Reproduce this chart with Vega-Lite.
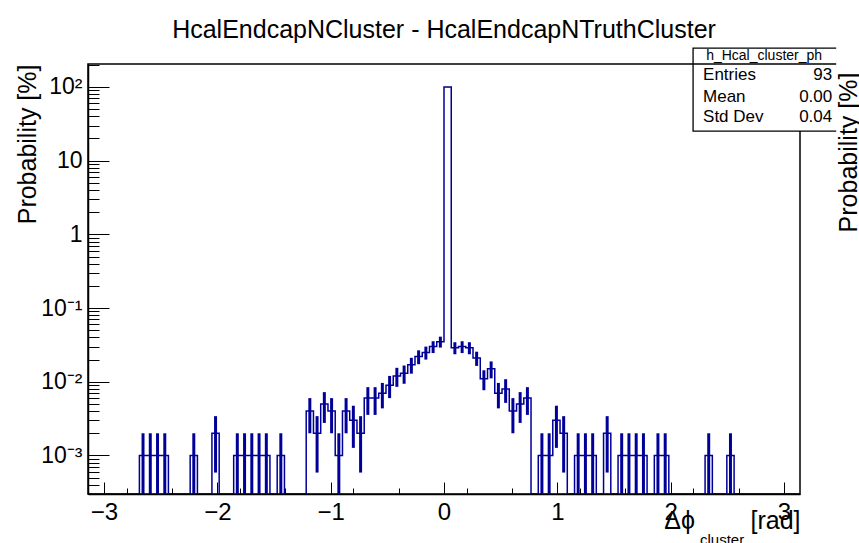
{
  "$schema": "https://vega.github.io/schema/vega-lite/v6.json",
  "width": 712,
  "height": 430,
  "autosize": {"type": "none"},
  "padding": {"left": 88, "top": 64, "right": 59, "bottom": 49},
  "background": "white",
  "config": {
    "view": {"stroke": "black", "strokeWidth": 1.5},
    "font": "Liberation Sans",
    "axis": {"labelFont": "Liberation Sans", "titleFont": "Liberation Sans", "labelColor": "black", "titleColor": "black", "domainColor": "black", "tickColor": "black", "titleFontWeight": "normal", "grid": false, "domainWidth": 1.5, "tickWidth": 1}
  },
  "title": {"text": "HcalEndcapNCluster - HcalEndcapNTruthCluster", "fontSize": 25, "font": "Liberation Sans", "fontWeight": "normal", "anchor": "middle", "offset": 4, "color": "black"},
  "datasets": {
    "hist": [
      {"x0": -3.2, "xc": -3.168, "p": 0},
      {"x0": -3.136, "xc": -3.104, "p": 0},
      {"x0": -3.072, "xc": -3.04, "p": 0},
      {"x0": -3.008, "xc": -2.976, "p": 0},
      {"x0": -2.944, "xc": -2.912, "p": 0},
      {"x0": -2.88, "xc": -2.848, "p": 0},
      {"x0": -2.816, "xc": -2.784, "p": 0},
      {"x0": -2.752, "xc": -2.72, "p": 0},
      {"x0": -2.688, "xc": -2.656, "p": 0.001, "lo": 0, "hi": 0.002},
      {"x0": -2.624, "xc": -2.592, "p": 0.001, "lo": 0, "hi": 0.002},
      {"x0": -2.56, "xc": -2.528, "p": 0.001, "lo": 0, "hi": 0.002},
      {"x0": -2.496, "xc": -2.464, "p": 0.001, "lo": 0, "hi": 0.002},
      {"x0": -2.432, "xc": -2.4, "p": 0},
      {"x0": -2.368, "xc": -2.336, "p": 0},
      {"x0": -2.304, "xc": -2.272, "p": 0},
      {"x0": -2.24, "xc": -2.208, "p": 0.001, "lo": 0, "hi": 0.002},
      {"x0": -2.176, "xc": -2.144, "p": 0},
      {"x0": -2.112, "xc": -2.08, "p": 0},
      {"x0": -2.048, "xc": -2.016, "p": 0.002, "lo": 0.000586, "hi": 0.003414},
      {"x0": -1.984, "xc": -1.952, "p": 0},
      {"x0": -1.92, "xc": -1.888, "p": 0},
      {"x0": -1.856, "xc": -1.824, "p": 0.001, "lo": 0, "hi": 0.002},
      {"x0": -1.792, "xc": -1.76, "p": 0.001, "lo": 0, "hi": 0.002},
      {"x0": -1.728, "xc": -1.696, "p": 0.001, "lo": 0, "hi": 0.002},
      {"x0": -1.664, "xc": -1.632, "p": 0.001, "lo": 0, "hi": 0.002},
      {"x0": -1.6, "xc": -1.568, "p": 0.001, "lo": 0, "hi": 0.002},
      {"x0": -1.536, "xc": -1.504, "p": 0},
      {"x0": -1.472, "xc": -1.44, "p": 0.001, "lo": 0, "hi": 0.002},
      {"x0": -1.408, "xc": -1.376, "p": 0},
      {"x0": -1.344, "xc": -1.312, "p": 0},
      {"x0": -1.28, "xc": -1.248, "p": 0},
      {"x0": -1.216, "xc": -1.184, "p": 0.004, "lo": 0.002, "hi": 0.006},
      {"x0": -1.152, "xc": -1.12, "p": 0.002, "lo": 0.000586, "hi": 0.003414},
      {"x0": -1.088, "xc": -1.056, "p": 0.005, "lo": 0.002764, "hi": 0.007236},
      {"x0": -1.024, "xc": -0.992, "p": 0.004, "lo": 0.002, "hi": 0.006},
      {"x0": -0.96, "xc": -0.928, "p": 0.001, "lo": 0, "hi": 0.002},
      {"x0": -0.896, "xc": -0.864, "p": 0.004, "lo": 0.002, "hi": 0.006},
      {"x0": -0.832, "xc": -0.8, "p": 0.003, "lo": 0.001268, "hi": 0.004732},
      {"x0": -0.768, "xc": -0.736, "p": 0.002, "lo": 0.000586, "hi": 0.003414},
      {"x0": -0.704, "xc": -0.672, "p": 0.006, "lo": 0.003551, "hi": 0.008449},
      {"x0": -0.64, "xc": -0.608, "p": 0.006, "lo": 0.003551, "hi": 0.008449},
      {"x0": -0.576, "xc": -0.544, "p": 0.007, "lo": 0.004354, "hi": 0.009646},
      {"x0": -0.512, "xc": -0.48, "p": 0.009, "lo": 0.006, "hi": 0.012},
      {"x0": -0.448, "xc": -0.416, "p": 0.012, "lo": 0.008536, "hi": 0.015464},
      {"x0": -0.384, "xc": -0.352, "p": 0.013, "lo": 0.009394, "hi": 0.016606},
      {"x0": -0.32, "xc": -0.288, "p": 0.017, "lo": 0.012877, "hi": 0.021123},
      {"x0": -0.256, "xc": -0.224, "p": 0.022, "lo": 0.01731, "hi": 0.02669},
      {"x0": -0.192, "xc": -0.16, "p": 0.025, "lo": 0.02, "hi": 0.03},
      {"x0": -0.128, "xc": -0.096, "p": 0.03, "lo": 0.024523, "hi": 0.035477},
      {"x0": -0.064, "xc": -0.032, "p": 0.035, "lo": 0.029084, "hi": 0.040916},
      {"x0": 0, "xc": 0.032, "p": 99.6, "lo": 99.28, "hi": 99.92},
      {"x0": 0.064, "xc": 0.096, "p": 0.029, "lo": 0.023615, "hi": 0.034385},
      {"x0": 0.128, "xc": 0.16, "p": 0.03, "lo": 0.024523, "hi": 0.035477},
      {"x0": 0.192, "xc": 0.224, "p": 0.029, "lo": 0.023615, "hi": 0.034385},
      {"x0": 0.256, "xc": 0.288, "p": 0.021, "lo": 0.016417, "hi": 0.025583},
      {"x0": 0.32, "xc": 0.352, "p": 0.011, "lo": 0.007683, "hi": 0.014317},
      {"x0": 0.384, "xc": 0.416, "p": 0.015, "lo": 0.011127, "hi": 0.018873},
      {"x0": 0.448, "xc": 0.48, "p": 0.007, "lo": 0.004354, "hi": 0.009646},
      {"x0": 0.512, "xc": 0.544, "p": 0.008, "lo": 0.005172, "hi": 0.010828},
      {"x0": 0.576, "xc": 0.608, "p": 0.004, "lo": 0.002, "hi": 0.006},
      {"x0": 0.64, "xc": 0.672, "p": 0.005, "lo": 0.002764, "hi": 0.007236},
      {"x0": 0.704, "xc": 0.736, "p": 0.006, "lo": 0.003551, "hi": 0.008449},
      {"x0": 0.768, "xc": 0.8, "p": 0},
      {"x0": 0.832, "xc": 0.864, "p": 0.001, "lo": 0, "hi": 0.002},
      {"x0": 0.896, "xc": 0.928, "p": 0.001, "lo": 0, "hi": 0.002},
      {"x0": 0.96, "xc": 0.992, "p": 0.003, "lo": 0.001268, "hi": 0.004732},
      {"x0": 1.024, "xc": 1.056, "p": 0.002, "lo": 0.000586, "hi": 0.003414},
      {"x0": 1.088, "xc": 1.12, "p": 0},
      {"x0": 1.152, "xc": 1.184, "p": 0.001, "lo": 0, "hi": 0.002},
      {"x0": 1.216, "xc": 1.248, "p": 0.001, "lo": 0, "hi": 0.002},
      {"x0": 1.28, "xc": 1.312, "p": 0.001, "lo": 0, "hi": 0.002},
      {"x0": 1.344, "xc": 1.376, "p": 0},
      {"x0": 1.408, "xc": 1.44, "p": 0.002, "lo": 0.000586, "hi": 0.003414},
      {"x0": 1.472, "xc": 1.504, "p": 0},
      {"x0": 1.536, "xc": 1.568, "p": 0.001, "lo": 0, "hi": 0.002},
      {"x0": 1.6, "xc": 1.632, "p": 0.001, "lo": 0, "hi": 0.002},
      {"x0": 1.664, "xc": 1.696, "p": 0.001, "lo": 0, "hi": 0.002},
      {"x0": 1.728, "xc": 1.76, "p": 0.001, "lo": 0, "hi": 0.002},
      {"x0": 1.792, "xc": 1.824, "p": 0},
      {"x0": 1.856, "xc": 1.888, "p": 0.001, "lo": 0, "hi": 0.002},
      {"x0": 1.92, "xc": 1.952, "p": 0.001, "lo": 0, "hi": 0.002},
      {"x0": 1.984, "xc": 2.016, "p": 0},
      {"x0": 2.048, "xc": 2.08, "p": 0},
      {"x0": 2.112, "xc": 2.144, "p": 0},
      {"x0": 2.176, "xc": 2.208, "p": 0},
      {"x0": 2.24, "xc": 2.272, "p": 0},
      {"x0": 2.304, "xc": 2.336, "p": 0.001, "lo": 0, "hi": 0.002},
      {"x0": 2.368, "xc": 2.4, "p": 0},
      {"x0": 2.432, "xc": 2.464, "p": 0},
      {"x0": 2.496, "xc": 2.528, "p": 0.001, "lo": 0, "hi": 0.002},
      {"x0": 2.56, "xc": 2.592, "p": 0},
      {"x0": 2.624, "xc": 2.656, "p": 0},
      {"x0": 2.688, "xc": 2.72, "p": 0},
      {"x0": 2.752, "xc": 2.784, "p": 0},
      {"x0": 2.816, "xc": 2.848, "p": 0},
      {"x0": 2.88, "xc": 2.912, "p": 0},
      {"x0": 2.944, "xc": 2.976, "p": 0},
      {"x0": 3.008, "xc": 3.04, "p": 0},
      {"x0": 3.072, "xc": 3.104, "p": 0},
      {"x0": 3.136, "xc": 3.168, "p": 0}
    ],
    "stats": [
      {"name": "h_Hcal_cluster_ph", "entries": "93", "mean": "0.00", "std": "0.04"}
    ]
  },
  "layer": [
    {
      "data": {"name": "hist"},
      "layer": [
        {
          "mark": {"type": "line", "interpolate": "step-after", "color": "#000099", "strokeWidth": 1.5, "clip": true},
          "encoding": {
            "x": {
              "field": "x0", "type": "quantitative",
              "scale": {"domain": [-3.1416, 3.1416], "nice": false, "zero": false},
              "axis": {
                "orient": "bottom",
                "values": [-3, -2, -1, 0, 1, 2, 3],
                "format": "d",
                "tickSize": -12,
                "labelPadding": 18,
                "labelFontSize": 24,
                "labelOverlap": false,
                "labelFlush": false,
                "title": "Δϕ\u00a0\u00a0\u00a0\u00a0\u00a0\u00a0\u00a0\u00a0[rad]",
                "titleFontSize": 25,
                "titleAnchor": "end",
                "titlePadding": -16,
                "zindex": 1
              }
            },
            "y": {
              "field": "p", "type": "quantitative",
              "scale": {"type": "log", "domain": [0.0003, 205], "clamp": true, "nice": false, "zero": false},
              "axis": {
                "values": [0.0003, 0.0004, 0.0005, 0.0006, 0.0007, 0.0008, 0.0009, 0.001, 0.002, 0.003, 0.004, 0.005, 0.006, 0.007, 0.008, 0.009, 0.01, 0.02, 0.03, 0.04, 0.05, 0.06, 0.07, 0.08, 0.09, 0.1, 0.2, 0.3, 0.4, 0.5, 0.6, 0.7, 0.8, 0.9, 1, 2, 3, 4, 5, 6, 7, 8, 9, 10, 20, 30, 40, 50, 60, 70, 80, 90, 100, 200],
                "labelExpr": "datum.value == 100 ? '10²' : datum.value == 10 ? '10' : datum.value == 1 ? '1' : datum.value == 0.1 ? '10⁻¹' : datum.value == 0.01 ? '10⁻²' : datum.value == 0.001 ? '10⁻³' : ''",
                "tickSize": {"condition": {"test": "indexof([0.001, 0.01, 0.1, 1, 10, 100], datum.value) >= 0", "value": -21}, "value": -11},
                "labelPadding": 27,
                "labelFontSize": 23,
                "labelOverlap": false,
                "labelFlush": false,
                "title": "Probability [%]",
                "titleFontSize": 25,
                "titleAnchor": "end",
                "titlePadding": 0,
                "zindex": 1
              }
            }
          }
        },
        {
          "mark": {"type": "rule", "color": "#000099", "strokeWidth": 3, "clip": true},
          "encoding": {
            "x": {"field": "xc", "type": "quantitative"},
            "y": {"field": "lo", "type": "quantitative"},
            "y2": {"field": "hi"}
          }
        }
      ]
    },
    {
      "data": {"name": "stats"},
      "layer": [
        {
          "mark": {"type": "rect", "fill": "white", "stroke": "black", "strokeWidth": 1.3, "clip": false},
          "encoding": {
            "x": {"datum": 2.198, "type": "quantitative", "axis": {
              "orient": "bottom",
              "values": [-2.8, -2.6, -2.4, -2.2, -1.8, -1.6, -1.4, -1.2, -0.8, -0.6, -0.4, -0.2, 0.2, 0.4, 0.6, 0.8, 1.2, 1.4, 1.6, 1.8, 2.2, 2.4, 2.6, 2.8],
              "tickSize": -6,
              "labels": false,
              "domain": false,
              "title": null,
              "zindex": 1
            }},
            "x2": {"datum": 4.3},
            "y": {"datum": 1.037, "type": "quantitative", "scale": {"domain": [0, 1], "nice": false, "zero": false}, "axis": null},
            "y2": {"datum": 0.844}
          }
        },
        {
          "mark": {"type": "rule", "color": "black", "strokeWidth": 1.3, "clip": false},
          "encoding": {
            "x": {"datum": 2.198, "type": "quantitative"},
            "x2": {"datum": 4.3},
            "y": {"datum": 1.0, "type": "quantitative", "axis": null}
          }
        },
        {
          "mark": {"type": "text", "fontSize": 14, "align": "center", "baseline": "middle", "color": "black", "clip": false},
          "encoding": {
            "x": {"datum": 2.825, "type": "quantitative"},
            "y": {"datum": 1.018, "type": "quantitative", "axis": null},
            "text": {"field": "name"}
          }
        },
        {
          "mark": {"type": "text", "fontSize": 17, "align": "left", "baseline": "middle", "color": "black", "clip": false},
          "encoding": {
            "x": {"datum": 2.286, "type": "quantitative"},
            "y": {"datum": 0.974, "type": "quantitative", "axis": null},
            "text": {"value": "Entries"}
          }
        },
        {
          "mark": {"type": "text", "fontSize": 17, "align": "right", "baseline": "middle", "color": "black", "clip": false},
          "encoding": {
            "x": {"datum": 3.426, "type": "quantitative"},
            "y": {"datum": 0.974, "type": "quantitative", "axis": null},
            "text": {"field": "entries"}
          }
        },
        {
          "mark": {"type": "text", "fontSize": 17, "align": "left", "baseline": "middle", "color": "black", "clip": false},
          "encoding": {
            "x": {"datum": 2.286, "type": "quantitative"},
            "y": {"datum": 0.924, "type": "quantitative", "axis": null},
            "text": {"value": "Mean"}
          }
        },
        {
          "mark": {"type": "text", "fontSize": 17, "align": "right", "baseline": "middle", "color": "black", "clip": false},
          "encoding": {
            "x": {"datum": 3.426, "type": "quantitative"},
            "y": {"datum": 0.924, "type": "quantitative", "axis": null},
            "text": {"field": "mean"}
          }
        },
        {
          "mark": {"type": "text", "fontSize": 17, "align": "left", "baseline": "middle", "color": "black", "clip": false},
          "encoding": {
            "x": {"datum": 2.286, "type": "quantitative"},
            "y": {"datum": 0.877, "type": "quantitative", "axis": null},
            "text": {"value": "Std Dev"}
          }
        },
        {
          "mark": {"type": "text", "fontSize": 17, "align": "right", "baseline": "middle", "color": "black", "clip": false},
          "encoding": {
            "x": {"datum": 3.426, "type": "quantitative"},
            "y": {"datum": 0.877, "type": "quantitative", "axis": null},
            "text": {"field": "std"}
          }
        },
        {
          "mark": {"type": "rect", "fill": "white", "strokeWidth": 0, "clip": false},
          "encoding": {
            "x": {"datum": 3.461, "type": "quantitative"},
            "x2": {"datum": 4.6},
            "y": {"datum": 1.04, "type": "quantitative", "axis": null},
            "y2": {"datum": 0.8}
          }
        },
        {
          "mark": {"type": "text", "fontSize": 25, "angle": 270, "align": "right", "baseline": "alphabetic", "color": "black", "clip": false},
          "encoding": {
            "x": {"datum": 3.646, "type": "quantitative"},
            "y": {"datum": 0.98, "type": "quantitative", "axis": null},
            "text": {"value": "Probability [%]"}
          }
        },
        {
          "mark": {"type": "text", "fontSize": 15, "align": "center", "baseline": "middle", "color": "black", "clip": false},
          "encoding": {
            "x": {"datum": 2.454, "type": "quantitative"},
            "y": {"datum": -0.107, "type": "quantitative", "axis": null},
            "text": {"value": "cluster"}
          }
        }
      ]
    }
  ],
  "resolve": {"scale": {"y": "independent"}, "axis": {"x": "independent"}}
}
